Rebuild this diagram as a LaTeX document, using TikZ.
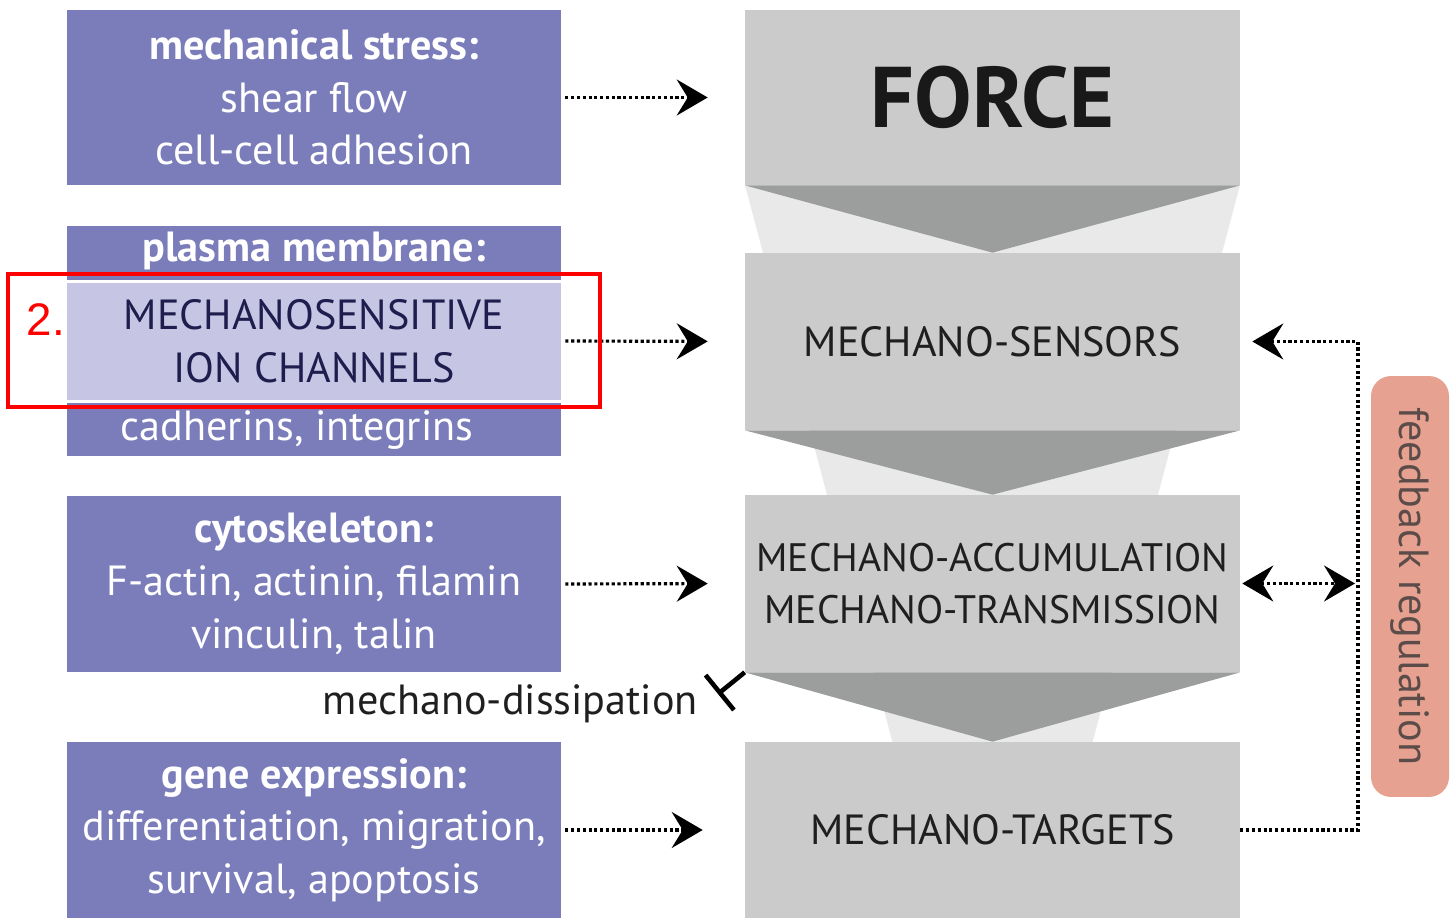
\documentclass[tikz,border=0pt]{standalone}
\usepackage{fontspec}
\setmainfont{PT Sans}
\newfontfamily\arialfont{Liberation Sans}
\usetikzlibrary{arrows.meta}

\definecolor{boxpurple}{HTML}{7B7DBB}
\definecolor{boxlilac}{HTML}{C6C6E4}
\definecolor{boxgray}{HTML}{CBCBCB}
\definecolor{chevgray}{HTML}{9C9E9D}
\definecolor{funnelgray}{HTML}{E9E9E9}
\definecolor{fbsalmon}{HTML}{E7A191}
\definecolor{navytext}{HTML}{1E1D4D}
\definecolor{fbtext}{HTML}{5B4C4A}

\tikzset{
  leftbox/.style={fill=boxpurple, text=white, minimum width=9.88cm, inner sep=0pt,
    align=center, font=\fontsize{24}{30}\selectfont},
  rightbox/.style={fill=boxgray, text=black!88, minimum width=9.9cm, inner sep=0pt,
    align=center, font=\fontsize{24}{30}\selectfont},
  flow/.style={dash pattern=on 1.8pt off 1.5pt, line width=1.8pt,
    -{Stealth[length=0.62cm, width=0.72cm, inset=0.22cm]}},
  chev/.style={fill=chevgray},
}

\begin{document}
\begin{tikzpicture}[x=0.02cm, y=-0.02cm]
\useasboundingbox (0,0) rectangle (1450,918);

% funnel behind the right column
\fill[funnelgray] (745,185) -- (1240,185) -- (1046,918) -- (939,918) -- cycle;

% left column
\node[leftbox, minimum height=3.5cm] (stress) at (314,97.5)
  {\textbf{mechanical stress:}\\shear flow\\cell-cell adhesion};
\node[leftbox, minimum height=4.6cm] (membrane) at (314,341) {};
\node[fill=white, minimum width=9.88cm, minimum height=2.48cm, inner sep=0pt] (sepline) at (314,341.5) {};
\node[fill=boxlilac, text=navytext, minimum width=9.88cm, minimum height=2.34cm, inner sep=0pt,
  align=center, font=\fontsize{24}{30}\selectfont] (channels) at (314,341.5)
  {MECHANOSENSITIVE\\ION CHANNELS};
\node[text=white, font=\fontsize{24}{30}\selectfont\bfseries] (membranehead) at (314,251) {plasma membrane:};
\node[text=white, font=\fontsize{24}{30}\selectfont] (membranefoot) at (297,430) {cadherins, integrins};
\node[leftbox, minimum height=3.52cm] (cyto) at (314,584)
  {\textbf{cytoskeleton:}\\F-actin, actinin, filamin\\vinculin, talin};
\node[leftbox, minimum height=3.52cm] (gene) at (314,830)
  {\textbf{gene expression:}\\differentiation, migration,\\survival, apoptosis};

% right column
\node[rightbox, minimum height=3.5cm, font=\fontsize{49}{49}\selectfont\bfseries, text=black!90] (force) at (992.5,97.5) {FORCE};
\node[rightbox, minimum height=3.54cm] (sensors) at (992.5,341.5) {MECHANO-SENSORS};
\node[rightbox, minimum height=3.54cm, font=\fontsize{22.6}{30}\selectfont] (accum) at (992.5,583.5) {MECHANO-ACCUMULATION\\MECHANO-TRANSMISSION};
\node[rightbox, minimum height=3.52cm] (targets) at (992.5,830) {MECHANO-TARGETS};

% chevrons
\fill[chev] (force.south west) -- (force.south east) -- (sensors.north) -- cycle;
\fill[chev] (sensors.south west) -- (sensors.south east) -- (accum.north) -- cycle;
\fill[chev] (accum.south west) -- (accum.south east) -- (targets.north) -- cycle;

% inputs
\draw[flow, shorten <=0.08cm, shorten >=0.74cm] (stress.east) -- (force.west);
\draw[flow, shorten <=0.08cm, shorten >=0.74cm] (membrane.east) -- (sensors.west);
\draw[flow, shorten <=0.08cm, shorten >=0.74cm] (cyto.east) -- (accum.west);
\draw[flow, shorten <=0.08cm, shorten >=0.84cm] (gene.east) -- (targets.west);

% feedback loop
\coordinate (fbx) at (1358,0);
\draw[flow, shorten >=0.24cm] (targets.east) -- (targets.east -| fbx) -- (sensors.east -| fbx) -- (sensors.east);
\draw[flow, {Stealth[length=0.62cm, width=0.72cm, inset=0.22cm]}-{Stealth[length=0.62cm, width=0.72cm, inset=0.22cm]},
  shorten <=0.04cm, shorten >=0.06cm] (accum.east) -- (accum.east -| fbx);
\node[fill=fbsalmon, rounded corners=0.4cm, minimum width=1.56cm, minimum height=8.42cm, inner sep=0pt] (fbbox) at (1410,586.5) {};
\node[rotate=-90, text=fbtext, font=\fontsize{24}{30}\selectfont] (fblabel) at (fbbox.center) {feedback regulation};

% dissipation
\node[anchor=east, text=black!88, font=\fontsize{24}{30}\selectfont] (dissip) at (704,704) {mechano-dissipation};
\coordinate (dbar) at (718,694);
\draw[line width=2.6pt, -{Bar[width=0.9cm]}] (accum.south west) -- (dbar);

% annotation
\draw[red, line width=1.8pt] (8,274) rectangle (600,407);
\node[red, font=\arialfont\fontsize{26}{26}\selectfont] (mark) at (46,320) {2.};
\end{tikzpicture}
\end{document}
